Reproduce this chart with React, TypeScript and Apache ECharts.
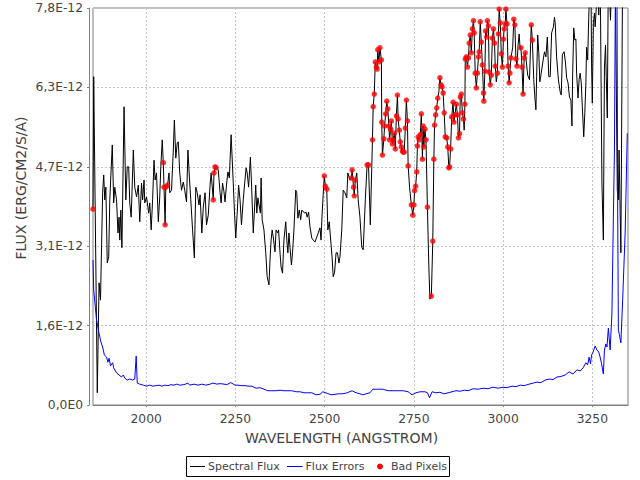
import React, { useEffect, useRef } from "react";
import * as echarts from "echarts";

// Wavelength axis range (Angstrom)
const X_MIN = 1851;
const X_MAX = 3350;
const xTickValues = [2000, 2250, 2500, 2750, 3000, 3250];

// Flux axis (values in units of 1E-12 erg/cm2/s/A)
const Y_MAX = 7.8;
const Y_INTERVAL = 1.56;
const yTickLabels = ["0,0E0", "1,6E-12", "3,1E-12", "4,7E-12", "6,3E-12", "7,8E-12"];

const xTitle = "WAVELENGTH (ANGSTROM)";
const yTitle = "FLUX (ERG/CM2/S/A)";
const legendNames = ["Spectral Flux", "Flux Errors", "Bad Pixels"];

// Spectral flux: [wavelength, flux(1E-12), badPixelFlag?]
const spectrum: number[][] = [
  [1851,3.85,1],[1853,6.45],[1863,0.24],[1868,2.40],[1872,2.06],[1878,4.17],[1881,4.52],[1884,4.03],[1887,4.28],[1891,2.79],
  [1895,2.91],[1898,4.03],[1905,5.11],[1909,3.97],[1912,4.28],[1917,4.03],[1921,3.38],[1924,3.69],[1926,3.24],[1929,3.83],
  [1932,3.09],[1938,5.86],[1943,4.03],[1947,4.68],[1951,4.68],[1954,3.97],[1958,3.69],[1964,5.01],[1968,4.28],[1973,4.09],
  [1978,4.32],[1982,3.60],[1987,4.36],[1990,4.03],[1994,4.42],[1996,3.97],[2001,4.09],[2007,3.77],[2010,3.97],[2014,3.44],
  [2018,4.03],[2022,4.81],[2025,4.42],[2029,4.56],[2034,3.60],[2038,4.09],[2041,4.68],[2045,5.21],[2048,4.76,1],[2050,4.28,1],
  [2053,3.54,1],[2055,4.28,1],[2060,4.32,1],[2064,4.56],[2066,4.17],[2071,4.22],[2076,5.01],[2079,5.60],[2083,4.85],[2087,5.15],
  [2090,5.17],[2094,4.56],[2099,4.22],[2104,4.38],[2108,4.22],[2113,3.99],[2117,5.01],[2121,4.48],[2125,4.03],[2130,3.44],
  [2135,2.89],[2139,4.28],[2143,4.17],[2148,3.93],[2151,4.13],[2156,3.38],[2160,3.89],[2165,4.17],[2169,3.54],[2174,3.73],
  [2179,4.32],[2182,4.56],[2188,4.03,1],[2190,4.56,1],[2193,4.68,1],[2196,4.66,1],[2202,4.62],[2207,4.17],[2210,3.97],[2214,4.36],
  [2218,4.19],[2221,3.99],[2225,4.32],[2229,4.58],[2233,4.46],[2238,5.31],[2244,4.36],[2248,3.69],[2251,3.28],[2255,3.77],
  [2259,4.32],[2263,4.03],[2267,3.54],[2272,4.03],[2276,4.36],[2280,4.66],[2283,4.56],[2287,4.28],[2292,4.87],[2295,4.38],
  [2300,3.38],[2303,3.77],[2307,4.32],[2310,3.77],[2313,4.07],[2320,3.77],[2322,4.46],[2325,3.64],[2330,3.44],[2335,2.99],
  [2339,2.52],[2344,2.36],[2347,2.85],[2350,3.24],[2353,3.44],[2356,3.30],[2361,3.01],[2364,3.44],[2368,3.38],[2371,3.44],
  [2375,2.99],[2378,2.71],[2382,2.59],[2386,3.24],[2391,3.60],[2394,3.24],[2397,2.99],[2400,3.38],[2403,3.09],[2407,2.75],
  [2410,2.99],[2414,3.44],[2419,4.22],[2422,4.17],[2425,3.67],[2429,3.83],[2433,3.64],[2436,3.83],[2444,3.77],[2448,3.79],
  [2451,3.69],[2455,3.79],[2459,3.50],[2464,3.28],[2468,3.24],[2473,3.20],[2478,3.30],[2482,3.38],[2487,3.48],[2490,3.24],
  [2493,3.77],[2499,4.50,1],[2502,4.30,1],[2506,4.24,1],[2509,3.44],[2513,3.60],[2517,3.24],[2521,2.89],[2524,2.52],[2528,2.61],
  [2532,2.99],[2536,2.99],[2540,2.79],[2543,2.91],[2548,3.44],[2552,4.22],[2557,4.17],[2562,4.07],[2565,4.56],[2571,4.42],
  [2575,4.46,1],[2577,4.62,1],[2581,4.28,1],[2583,4.11,1],[2586,4.42,1],[2590,4.56],[2594,4.03],[2599,3.69],[2604,3.10],[2608,3.05],
  [2614,4.03],[2619,4.72,1],[2623,4.72,1],[2628,3.54],[2634,5.21,1],[2636,5.86,1],[2639,6.11,1],[2642,6.74,1],[2645,6.64,1],[2647,6.60,1],
  [2649,6.98,1],[2652,6.74,1],[2655,7.02,1],[2659,6.78,1],[2660,5.56,1],[2662,4.91,1],[2666,5.23,1],[2668,5.48,1],[2671,5.72,1],[2674,5.97,1],
  [2677,5.82,1],[2680,5.48,1],[2682,5.21,1],[2685,5.42,1],[2687,5.58,1],[2690,5.13,1],[2692,5.21,1],[2695,5.34,1],[2698,5.03,1],[2701,5.68,1],
  [2704,6.09,1],[2706,5.62,1],[2709,5.40,1],[2712,5.17,1],[2715,5.07,1],[2718,4.99,1],[2720,4.97,1],[2723,4.97,1],[2726,5.44,1],[2729,5.99,1],
  [2732,5.58,1],[2734,4.70,1],[2738,4.28],[2743,3.93,1],[2747,3.73,1],[2750,3.93,1],[2752,4.21,1],[2755,4.30,1],[2758,4.58,1],[2760,5.09,1],
  [2762,5.27,1],[2765,5.21,1],[2768,5.31,1],[2771,5.72,1],[2774,4.83,1],[2776,5.48,1],[2778,5.07,1],[2781,5.42,1],[2784,5.21,1],[2788,3.89,1],
  [2792,2.71],[2795,2.08],[2799,2.14,1],[2803,3.22,1],[2806,4.83,1],[2808,5.50,1],[2811,5.70,1],[2814,5.84,1],[2817,6.03,1],[2820,6.15],
  [2823,6.43,1],[2826,6.29,1],[2829,6.25,1],[2832,6.13,1],[2835,5.74,1],[2838,5.27,1],[2842,5.25,1],[2845,5.07,1],[2848,4.66,1],[2850,4.68,1],
  [2853,5.03,1],[2856,5.66,1],[2860,5.95,1],[2862,5.56,1],[2865,5.70,1],[2869,5.91,1],[2872,5.70,1],[2875,5.25,1],[2878,5.33,1],[2880,6.05,1],
  [2883,6.11,1],[2886,5.74,1],[2889,5.62,1],[2891,5.40],[2893,5.91,1],[2894,6.80,1],[2897,6.84,1],[2900,6.64,1],[2903,6.82,1],[2905,7.11,1],
  [2908,7.27,1],[2911,6.92,1],[2914,7.39,1],[2917,7.55,1],[2919,7.31,1],[2922,6.52,1],[2925,6.23,1],[2928,6.52,1],[2931,6.84,1],[2933,6.94,1],
  [2936,7.53,1],[2939,7.13,1],[2942,6.68,1],[2945,6.13,1],[2946,5.97,1],[2949,6.56,1],[2951,7.35,1],[2954,7.23,1],[2956,7.55,1],[2959,7.45,1],
  [2961,6.54,1],[2964,6.29,1],[2967,6.48,1],[2970,7.21,1],[2973,7.39,1],[2976,7.11,1],[2978,6.66,1],[2981,6.35],[2984,6.52,1],[2987,7.29,1],
  [2989,7.78,1],[2992,7.51,1],[2995,6.90,1],[2998,6.64,1],[3001,7.19,1],[3003,7.39,1],[3006,7.49,1],[3008,7.78,1],[3011,7.49,1],[3014,6.66,1],
  [3017,6.33,1],[3019,6.52,1],[3022,6.82,1],[3027,7.03],[3030,7.58,1],[3033,7.47,1],[3036,6.80,1],[3039,6.66,1],[3042,7.07],[3045,7.29],
  [3048,6.98],[3050,7.02,1],[3053,6.64,1],[3056,6.11,1],[3059,6.82,1],[3062,6.92,1],[3064,6.82],[3069,6.48],[3074,6.39],[3076,6.84],
  [3079,7.47,1],[3082,7.17,1],[3086,6.39],[3089,6.05],[3092,5.80],[3094,6.45],[3097,7.27],[3100,6.92],[3103,6.35],[3106,6.48],
  [3111,6.72],[3116,6.94],[3120,6.84],[3124,7.23],[3128,6.45],[3132,6.45],[3136,7.31],[3141,7.43],[3144,7.62],[3146,7.51],
  [3150,6.84],[3155,6.39],[3160,6.15],[3163,6.09],[3166,6.88],[3171,6.94],[3175,6.72],[3178,6.43],[3182,6.33],[3186,6.05],
  [3190,5.99],[3193,5.48],[3195,6.52],[3198,7.41],[3201,7.17],[3204,7.19],[3206,6.52],[3210,6.03],[3213,6.39],[3216,6.52],
  [3219,6.33],[3222,5.86],[3226,5.27],[3229,5.74],[3232,6.33],[3234,7.03],[3237,6.78],[3240,7.62],[3243,8.2],[3246,8.6],
  [3248,6.64],[3250,5.93],[3253,7.51],[3256,7.70],[3258,7.43],[3262,7.9],[3266,8.8],[3268,7.66],[3272,8.6],[3275,5.99],
  [3277,4.36],[3281,3.24],[3284,6.64],[3287,7.07],[3289,6.45],[3292,5.64],[3295,8.6],[3301,7.56],[3305,8.6],[3314,8.6],
  [3320,4.22],[3323,4.03],[3325,5.01],[3330,2.99],[3335,8.6],[3342,8.6],[3350,8.6],
];

// Flux errors: [wavelength, error(1E-12)]
const fluxErrors: number[][] = [
  [1851,2.85],[1853,2.26],[1861,1.67],[1868,1.41],[1873,1.24],[1878,1.14],[1883,0.98],[1889,0.94],[1893,0.84],[1896,0.92],
  [1900,0.77],[1906,0.83],[1909,0.73],[1917,0.63],[1924,0.59],[1931,0.55],[1936,0.59],[1940,0.53],[1947,0.49],[1954,0.51],
  [1962,0.49],[1968,0.51],[1972,0.96],[1975,0.43],[1982,0.41],[1992,0.39],[2001,0.37],[2010,0.39],[2019,0.37],[2027,0.38],
  [2036,0.39],[2044,0.37],[2052,0.39],[2061,0.38],[2069,0.40],[2078,0.39],[2086,0.41],[2094,0.39],[2106,0.40],[2117,0.43],
  [2122,0.39],[2134,0.41],[2145,0.39],[2156,0.41],[2167,0.39],[2179,0.41],[2187,0.43],[2198,0.41],[2207,0.42],[2218,0.41],
  [2226,0.40],[2237,0.44],[2249,0.39],[2257,0.39],[2268,0.38],[2277,0.38],[2288,0.37],[2296,0.37],[2308,0.33],[2319,0.34],
  [2330,0.31],[2341,0.28],[2352,0.28],[2364,0.28],[2375,0.29],[2386,0.28],[2397,0.28],[2408,0.28],[2420,0.26],[2431,0.26],
  [2442,0.24],[2453,0.24],[2464,0.24],[2476,0.20],[2487,0.21],[2495,0.26],[2507,0.23],[2518,0.20],[2529,0.21],[2540,0.22],
  [2551,0.22],[2563,0.24],[2577,0.28],[2588,0.24],[2599,0.22],[2607,0.20],[2616,0.22],[2627,0.24],[2635,0.31],[2649,0.31],
  [2663,0.31],[2678,0.28],[2692,0.28],[2706,0.28],[2720,0.28],[2734,0.26],[2745,0.20],[2756,0.24],[2767,0.26],[2781,0.26],
  [2788,0.24],[2794,0.14],[2801,0.26],[2812,0.24],[2823,0.25],[2834,0.22],[2846,0.24],[2857,0.26],[2868,0.28],[2879,0.27],
  [2891,0.29],[2902,0.28],[2916,0.32],[2930,0.31],[2944,0.33],[2958,0.32],[2972,0.35],[2986,0.33],[3000,0.35],[3011,0.34],
  [3025,0.37],[3036,0.36],[3048,0.39],[3059,0.38],[3073,0.41],[3084,0.43],[3095,0.45],[3106,0.44],[3118,0.49],[3129,0.51],
  [3140,0.50],[3151,0.55],[3162,0.56],[3174,0.59],[3185,0.65],[3196,0.61],[3207,0.69],[3216,0.67],[3224,0.73],[3232,0.83],
  [3237,0.79],[3241,0.94],[3245,0.81],[3248,0.98],[3252,1.04],[3258,1.16],[3263,1.08],[3268,1.04],[3272,0.94],[3276,0.81],
  [3281,0.61],[3284,1.08],[3288,1.20],[3291,1.14],[3295,1.51],[3300,1.08],[3305,1.81],[3309,3.69],[3312,5.01],[3315,8.5],
  [3319,8.5],[3321,4.03],[3323,1.47],[3326,1.38],[3330,1.22],[3335,2.06],[3342,3.38],[3348,5.34],
];

const FONT = "DejaVu Sans";
const TEXT_COLOR = "#444444";

export default function App() {
  const ref = useRef<HTMLDivElement>(null);

  useEffect(() => {
    if (!ref.current) return;
    const chart = echarts.init(ref.current, undefined, { renderer: "svg" });

    const fluxData = spectrum.map((p) => [p[0], p[1]]);
    const badData = spectrum.filter((p) => p[2] === 1).map((p) => [p[0], p[1]]);

    const option: any = {
      animation: false,
      backgroundColor: "#ffffff",
      grid: {
        left: 93,
        right: 12,
        top: 8,
        bottom: 75,
        show: true,
        backgroundColor: "#ffffff",
        borderColor: "#808080",
        borderWidth: 1,
        outerBoundsMode: "none",
        containLabel: false,
      },
      xAxis: {
        type: "value",
        min: X_MIN,
        max: X_MAX,
        offset: 4,
        axisLine: { show: true, lineStyle: { color: "#808080", width: 1 } },
        axisTick: { show: true, length: 2, customValues: xTickValues, lineStyle: { color: "#808080" } },
        axisLabel: {
          customValues: xTickValues,
          margin: 4,
          color: TEXT_COLOR,
          fontFamily: FONT,
          fontSize: 12.3,
          formatter: (v: number) => String(Math.round(v)),
        },
        splitLine: { show: true, lineStyle: { color: "#c4c4c4", type: [2, 2], width: 1 } },
      },
      yAxis: {
        type: "value",
        min: 0,
        max: Y_MAX,
        interval: Y_INTERVAL,
        offset: 4,
        axisLine: { show: true, lineStyle: { color: "#808080", width: 1 } },
        axisTick: { show: true, length: 2, lineStyle: { color: "#808080" } },
        axisLabel: {
          margin: 6,
          color: TEXT_COLOR,
          fontFamily: FONT,
          fontSize: 12.3,
          formatter: (v: number) => yTickLabels[Math.round(v / Y_INTERVAL)] ?? "",
        },
        splitLine: { show: true, lineStyle: { color: "#c4c4c4", type: [2, 2], width: 1 } },
      },
      series: [
        {
          name: legendNames[0],
          type: "line",
          data: fluxData,
          showSymbol: false,
          symbol: "none",
          lineStyle: { color: "#000000", width: 1 },
          clip: true,
          z: 2,
        },
        {
          name: legendNames[1],
          type: "line",
          data: fluxErrors,
          showSymbol: false,
          symbol: "none",
          lineStyle: { color: "#0000ff", width: 1 },
          clip: true,
          z: 3,
        },
        {
          name: legendNames[2],
          type: "scatter",
          data: badData,
          symbol: "circle",
          symbolSize: 5.5,
          itemStyle: { color: "#ff0000" },
          clip: true,
          z: 4,
        },
      ],
      graphic: [
        {
          type: "text",
          x: 341.5,
          y: 437.5,
          style: {
            text: xTitle,
            fontFamily: FONT,
            fontSize: 14,
            fill: TEXT_COLOR,
            align: "center",
            verticalAlign: "middle",
            textAlign: "center",
            textVerticalAlign: "middle",
          },
        },
        {
          type: "text",
          x: 21,
          y: 188,
          rotation: Math.PI / 2,
          style: {
            text: yTitle,
            fontFamily: FONT,
            fontSize: 14,
            fill: TEXT_COLOR,
            align: "center",
            verticalAlign: "middle",
            textAlign: "center",
            textVerticalAlign: "middle",
          },
        },
        // legend box
        {
          type: "rect",
          shape: { x: 186.5, y: 456.5, width: 263, height: 20 },
          style: { fill: "#ffffff", stroke: "#000000", lineWidth: 1 },
        },
        {
          type: "line",
          shape: { x1: 190, y1: 466.5, x2: 205, y2: 466.5 },
          style: { stroke: "#000000", lineWidth: 1 },
        },
        {
          type: "text",
          x: 208,
          y: 466.5,
          style: {
            text: legendNames[0], fontFamily: FONT, fontSize: 11, fill: TEXT_COLOR,
            align: "left", verticalAlign: "middle", textAlign: "left", textVerticalAlign: "middle",
          },
        },
        {
          type: "line",
          shape: { x1: 287, y1: 466.5, x2: 302.5, y2: 466.5 },
          style: { stroke: "#0000ff", lineWidth: 1 },
        },
        {
          type: "text",
          x: 305.5,
          y: 466.5,
          style: {
            text: legendNames[1], fontFamily: FONT, fontSize: 11, fill: TEXT_COLOR,
            align: "left", verticalAlign: "middle", textAlign: "left", textVerticalAlign: "middle",
          },
        },
        {
          type: "circle",
          shape: { cx: 380, cy: 466.5, r: 3 },
          style: { fill: "#ff0000" },
        },
        {
          type: "text",
          x: 391,
          y: 466.5,
          style: {
            text: legendNames[2], fontFamily: FONT, fontSize: 11, fill: TEXT_COLOR,
            align: "left", verticalAlign: "middle", textAlign: "left", textVerticalAlign: "middle",
          },
        },
      ],
    };

    chart.setOption(option);
    return () => chart.dispose();
  }, []);

  return (
    <div
      ref={ref}
      style={{ position: "fixed", left: 0, top: 0, width: 640, height: 480 }}
    />
  );
}
